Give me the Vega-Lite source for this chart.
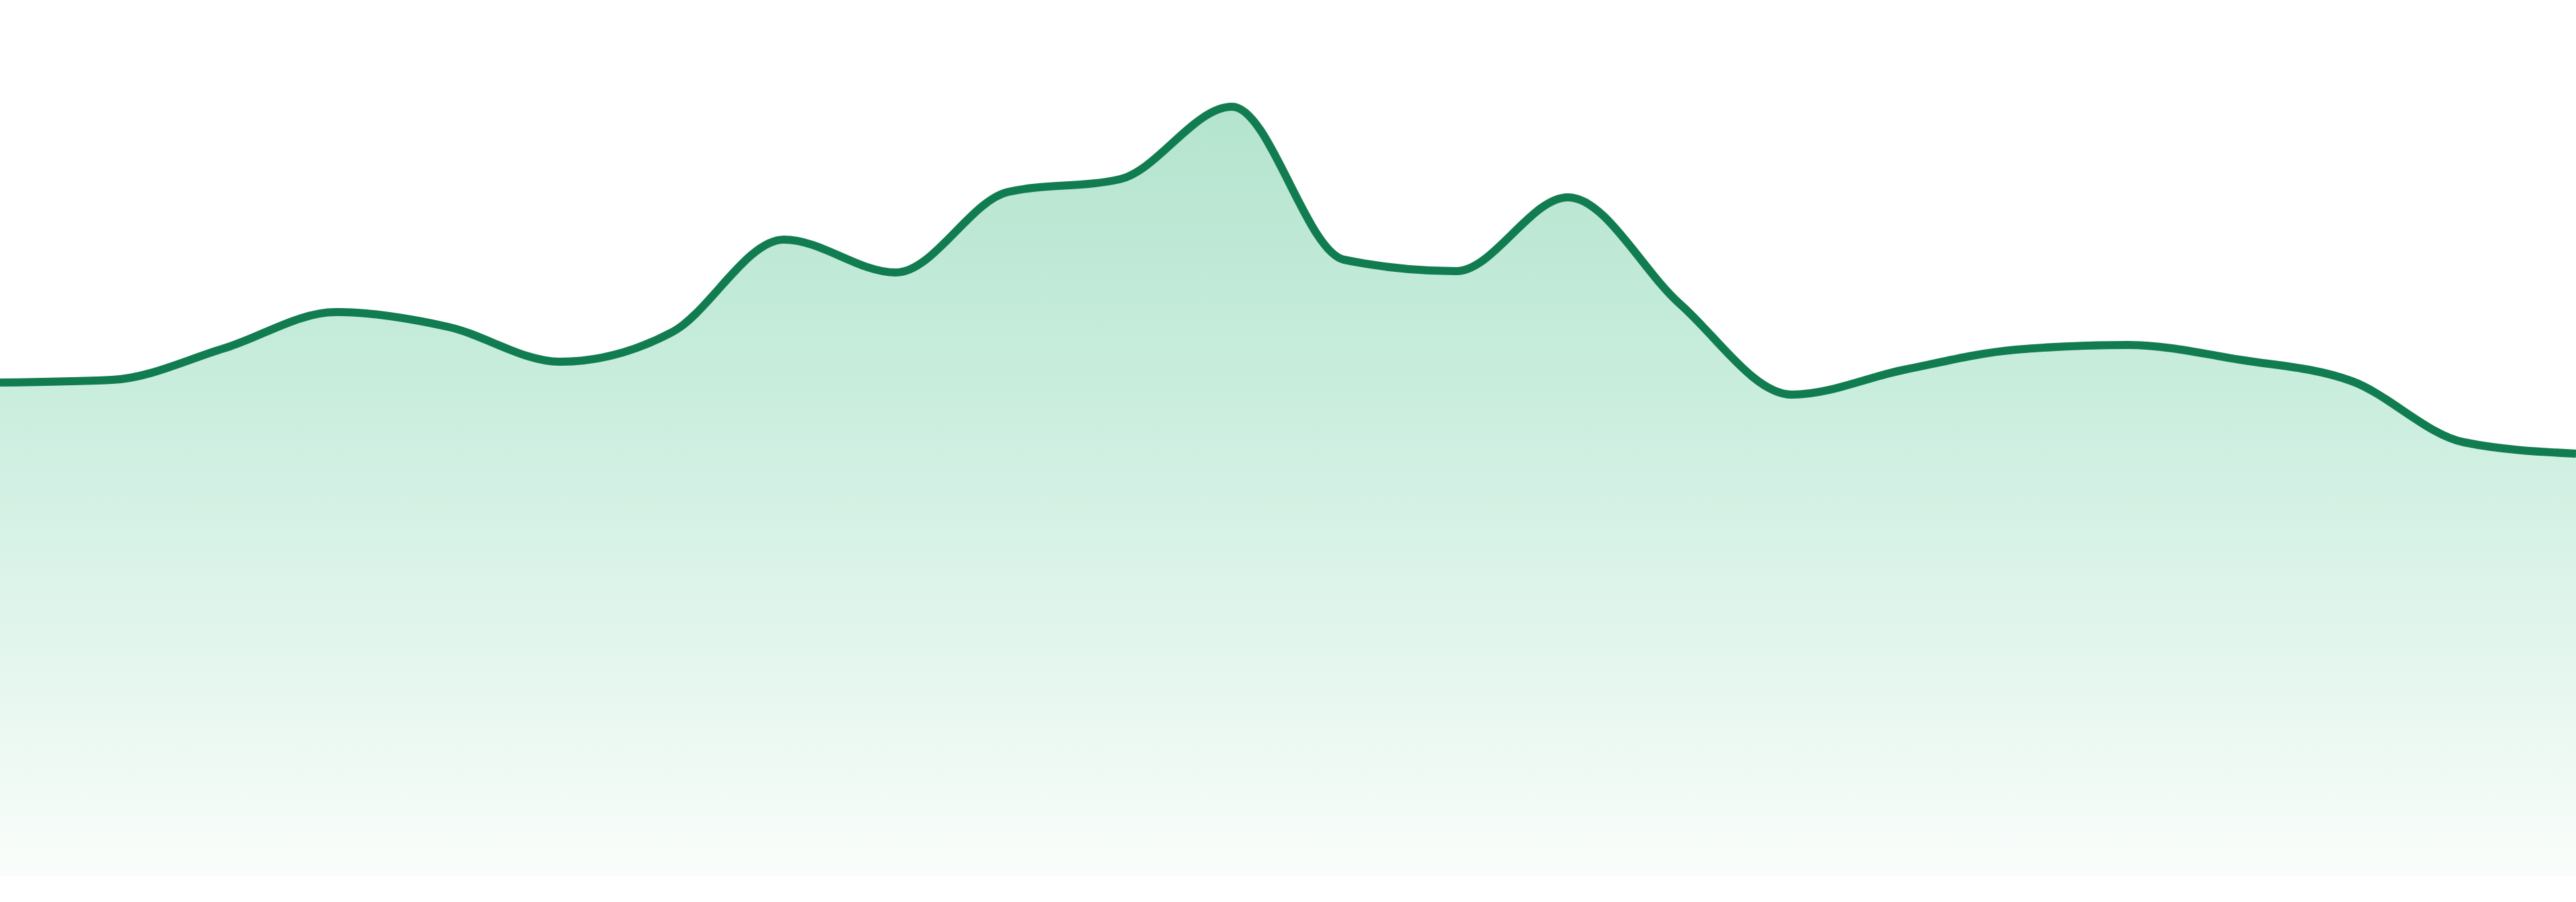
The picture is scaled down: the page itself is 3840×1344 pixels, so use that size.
{
  "$schema": "https://vega.github.io/schema/vega-lite/v6.json",
  "width": 3840,
  "height": 1305,
  "padding": 0,
  "autosize": "none",
  "background": "#ffffff",
  "data": {
    "values": [
      {"i": 0, "v": 735},
      {"i": 1, "v": 739},
      {"i": 2, "v": 786},
      {"i": 3, "v": 840},
      {"i": 4, "v": 818},
      {"i": 5, "v": 766},
      {"i": 6, "v": 810},
      {"i": 7, "v": 948},
      {"i": 8, "v": 899},
      {"i": 9, "v": 1019},
      {"i": 10, "v": 1038},
      {"i": 11, "v": 1146},
      {"i": 12, "v": 918},
      {"i": 13, "v": 901},
      {"i": 14, "v": 1011},
      {"i": 15, "v": 852},
      {"i": 16, "v": 717},
      {"i": 17, "v": 754},
      {"i": 18, "v": 784},
      {"i": 19, "v": 791},
      {"i": 20, "v": 769},
      {"i": 21, "v": 737},
      {"i": 22, "v": 646},
      {"i": 23, "v": 629}
    ]
  },
  "encoding": {
    "x": {"field": "i", "type": "quantitative", "axis": null, "scale": {"domain": [0, 23], "nice": false, "zero": false}},
    "y": {"field": "v", "type": "quantitative", "axis": null, "scale": {"domain": [0, 1305], "nice": false}}
  },
  "layer": [
    {
      "mark": {
        "type": "area",
        "interpolate": "monotone",
        "color": {
          "gradient": "linear",
          "x1": 1, "y1": 0, "x2": 1, "y2": 1,
          "stops": [
            {"offset": 0, "color": "#b4e4ce"},
            {"offset": 0.4, "color": "#cbeedf"},
            {"offset": 1, "color": "#fafdfb"}
          ]
        }
      }
    },
    {
      "mark": {"type": "line", "interpolate": "monotone", "color": "#127c51", "strokeWidth": 12}
    }
  ],
  "config": {"view": {"stroke": null}}
}
